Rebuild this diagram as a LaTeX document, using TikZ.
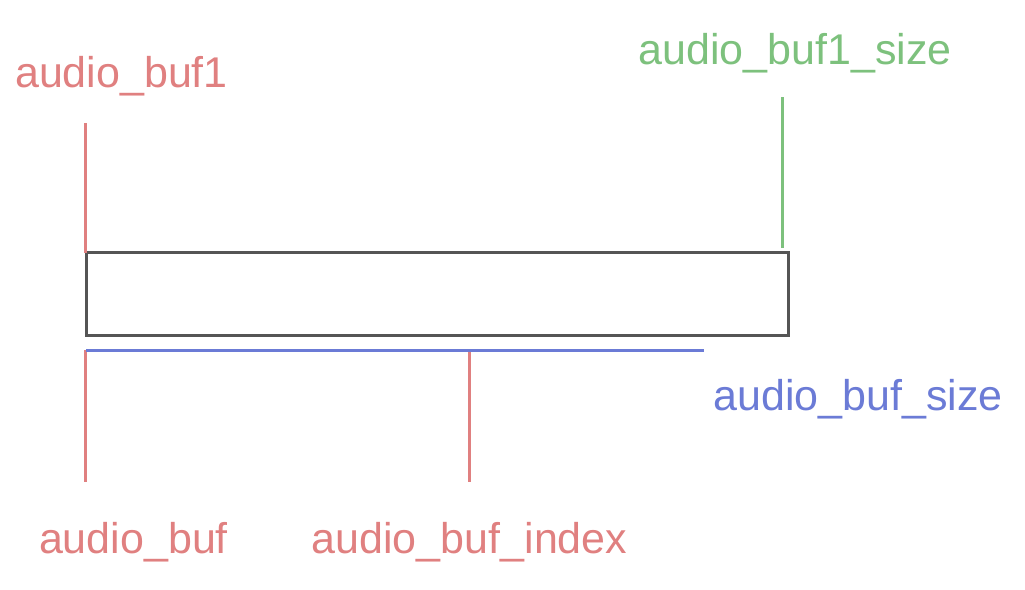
\documentclass[tikz,border=0pt]{standalone}
\usepackage{fontspec}
\setmainfont{Liberation Sans}
\definecolor{lred}{RGB}{224,128,128}
\definecolor{lgreen}{RGB}{125,193,125}
\definecolor{lblue}{RGB}{107,123,214}
\definecolor{dgray}{RGB}{85,85,85}
\begin{document}
\begin{tikzpicture}[x=1pt,y=-1pt,
  lbl/.style={inner sep=0pt,anchor=base,font=\fontsize{43}{50}\selectfont},
  ln/.style={line width=3pt}]
\useasboundingbox (0,0) rectangle (1025,589);
\node[draw=dgray,line width=3pt,minimum width=702pt,minimum height=83pt,inner sep=0pt] (box) at (437,293.5) {};
% labels
\node[lbl,text=lred] (t1) at (121.5,87) {audio\_buf1};
\node[lbl,text=lgreen] (t2) at (795,64) {audio\_buf1\_size};
\node[lbl,text=lblue] (t3) at (858,410) {audio\_buf\_size};
\node[lbl,text=lred] (t4) at (133.5,553) {audio\_buf};
\node[lbl,text=lred] (t5) at (469.5,553) {audio\_buf\_index};
% coordinates
\coordinate (a1) at (85,123); \coordinate (a2) at (85,253);
\coordinate (g1) at (782,97); \coordinate (g2) at (782,248);
\coordinate (b1) at (86,350); \coordinate (b2) at (704,350);
\coordinate (c1) at (85,350); \coordinate (c2) at (85,482);
\coordinate (d1) at (469,350); \coordinate (d2) at (469,482);
\draw[ln,lred] (a1) -- (a2);
\draw[ln,lgreen] (g1) -- (g2);
\draw[ln,lred] (c1) -- (c2);
\draw[ln,lred] (d1) -- (d2);
\draw[ln,lblue] (b1) -- (b2);
\end{tikzpicture}
\end{document}
